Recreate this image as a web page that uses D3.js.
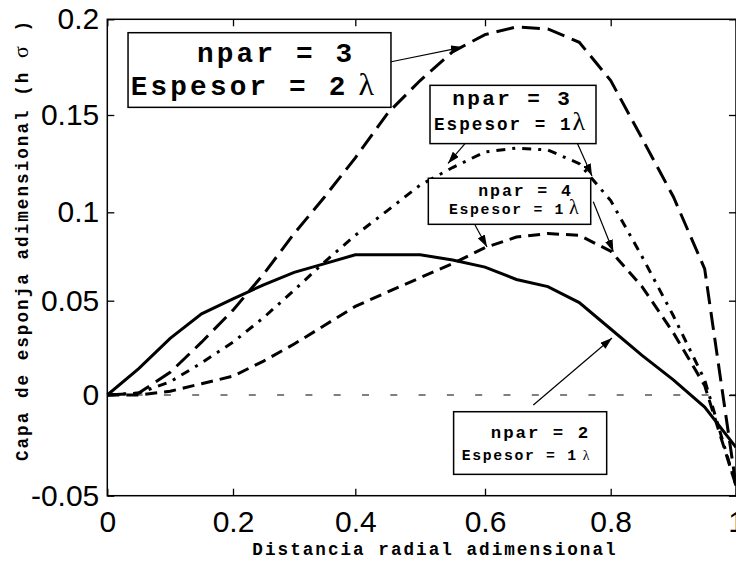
<!DOCTYPE html>
<html>
<head>
<meta charset="utf-8">
<script src="https://cdn.jsdelivr.net/npm/d3@7"></script>
<style>
  body { margin: 0; background: #fff; }
  svg { display: block; }
</style>
</head>
<body>
<svg id="chart" width="736" height="561"></svg>
<script>
// Radial positions (dimensionless) where the sponge-layer thickness was evaluated
const radialPos = [0, 0.05, 0.1, 0.15, 0.2, 0.25, 0.3, 0.35, 0.4, 0.45, 0.5,
                   0.55, 0.6, 0.65, 0.7, 0.75, 0.8, 0.85, 0.9, 0.95, 1];

// Dimensionless sponge-layer thickness (h sigma) for each configuration
const npar2Esp1 = [0, 0.014, 0.030, 0.043, 0.051, 0.059, 0.066, 0.071, 0.076, 0.076, 0.076,
                   0.073, 0.069, 0.062, 0.058, 0.049, 0.035, 0.021, 0.008, -0.006, -0.026];
const npar3Esp2 = [0, 0.001, 0.012, 0.028, 0.045, 0.065, 0.088, 0.108, 0.128, 0.151, 0.168,
                   0.183, 0.192, 0.196, 0.195, 0.188, 0.168, 0.138, 0.108, 0.068, -0.045];
const npar3Esp1 = [0, 0.001, 0.007, 0.017, 0.028, 0.041, 0.056, 0.072, 0.087, 0.101, 0.114,
                   0.123, 0.131, 0.133, 0.132, 0.125, 0.106, 0.075, 0.042, 0.008, -0.045];
const npar4Esp1 = [0, 0.000, 0.002, 0.006, 0.010, 0.018, 0.027, 0.037, 0.047, 0.055, 0.063,
                   0.071, 0.080, 0.086, 0.088, 0.087, 0.078, 0.058, 0.033, 0.005, -0.045];

const xTicks = [0, 0.2, 0.4, 0.6, 0.8, 1];
const xTickLabels = ["0", "0.2", "0.4", "0.6", "0.8", "1"];
const yTicks = [-0.05, 0, 0.05, 0.1, 0.15, 0.2];
const yTickLabels = ["-0.05", "0", "0.05", "0.1", "0.15", "0.2"];

const xTitle = "Distancia radial adimensional";
const yTitle = ["Capa de esponja adimensional (h ", "\u03c3", " )"];

const series = [
  { values: npar2Esp1, dash: null },
  { values: npar3Esp2, dash: "18,8" },
  { values: npar3Esp1, dash: "9,7,3,7" },
  { values: npar4Esp1, dash: "12,7" }
];

// Annotation boxes in data coordinates: [x0, x1, yTop, yBottom]
const notes = [
  { box: [0.033, 0.455, 0.193, 0.154],
    lines: [ { x: 0.1443, y: 0.1775, size: 33, text: "npar = 3" },
             { x: 0.0388, y: 0.1604, size: 33, text: "Espesor = 2", lam: 32, ldx: 10 } ],
    arrows: [ [0.4534, 0.1777, 0.5661, 0.1855] ] },
  { box: [0.5152, 0.7766, 0.1655, 0.1353],
    lines: [ { x: 0.5511, y: 0.1554, size: 25, text: "npar = 3" },
             { x: 0.5229, y: 0.1421, size: 21, text: "Espesor = 1", lam: 26, ldx: 0 } ],
    arrows: [ [0.5718, 0.1363, 0.5430, 0.1251], [0.7469, 0.1355, 0.7702, 0.1187] ] },
  { box: [0.5126, 0.7682, 0.1175, 0.0932],
    lines: [ { x: 0.5912, y: 0.1084, size: 19.7, text: "npar = 4" },
             { x: 0.5460, y: 0.0990, size: 17.6, text: "Espesor = 1", lam: 20, ldx: 4 } ],
    arrows: [ [0.5846, 0.0928, 0.6032, 0.0804], [0.7723, 0.1054, 0.8042, 0.0777] ] },
  { box: [0.5516, 0.7936, -0.0083, -0.0394],
    lines: [ { x: 0.6107, y: -0.0215, size: 20.7, text: "npar = 2" },
             { x: 0.5656, y: -0.0323, size: 17.6, text: "Espesor = 1", lam: 14, ldx: 5 } ],
    arrows: [ [0.6769, -0.005, 0.8021, 0.0302] ] }
];

const svg = d3.select("#chart");

const x = d3.scaleLinear().domain(xTicks).range([107.3, 233, 355.3, 485, 610.7, 736]);
const y = d3.scaleLinear().domain(yTicks).range([495.7, 395, 300.7, 212.3, 115, 19.3]);

const MONO = "'Liberation Mono', 'Courier New', monospace";
const SERIF = "'Liberation Serif', 'Times New Roman', serif";
const SANS = "'Liberation Sans', Arial, Helvetica, sans-serif";

// Courier-like pitch on a taller monospace face
function mono(sel, size) {
  const f = size * 0.84;
  sel.attr("font-family", MONO).attr("font-weight", "bold")
     .attr("font-size", f).attr("letter-spacing", (0.6 * (size - f)).toFixed(2));
}

svg.append("defs").append("marker")
  .attr("id", "head")
  .attr("viewBox", "0 0 12 8")
  .attr("refX", 12).attr("refY", 4)
  .attr("markerWidth", 12).attr("markerHeight", 8)
  .attr("markerUnits", "userSpaceOnUse")
  .attr("orient", "auto")
  .append("path").attr("d", "M0,0 L12,4 L0,8 Z").attr("fill", "#000");

// zero reference line
svg.append("line")
  .attr("x1", x(0)).attr("x2", x(1))
  .attr("y1", y(0)).attr("y2", y(0))
  .attr("stroke", "#000").attr("stroke-width", 1)
  .attr("stroke-dasharray", "7,21.3");

// curves
const line = d3.line().x((d, i) => x(radialPos[i])).y(d => y(d));
svg.append("g").selectAll("path").data(series).join("path")
  .attr("d", d => line(d.values))
  .attr("fill", "none").attr("stroke", "#000").attr("stroke-width", 3)
  .attr("stroke-dasharray", d => d.dash);

// axes with inward ticks
const fmtX = (d, i) => xTickLabels[i];
const fmtY = (d, i) => yTickLabels[i];
const gx = svg.append("g").attr("transform", `translate(0,${y(-0.05)})`)
  .call(d3.axisBottom(x).tickValues(xTicks).tickFormat(fmtX).tickSizeInner(-7).tickSizeOuter(0).tickPadding(15));
const gy = svg.append("g").attr("transform", `translate(${x(0)},0)`)
  .call(d3.axisLeft(y).tickValues(yTicks).tickFormat(fmtY).tickSizeInner(-7).tickSizeOuter(0).tickPadding(8));
const gt = svg.append("g").attr("transform", `translate(0,${y(0.2)})`)
  .call(d3.axisTop(x).tickValues(xTicks).tickFormat("").tickSizeInner(-7).tickSizeOuter(0));
const gr = svg.append("g").attr("transform", `translate(${x(1)},0)`)
  .call(d3.axisRight(y).tickValues(yTicks).tickFormat("").tickSizeInner(-7).tickSizeOuter(0));
[gx, gy, gt, gr].forEach(g => {
  g.select(".domain").remove();
  g.selectAll(".tick line").attr("stroke", "#000").attr("stroke-width", 1.3);
  g.selectAll("text").attr("font-family", SANS).attr("font-size", 30).attr("fill", "#000");
});

// plot frame
svg.append("rect")
  .attr("x", x(0)).attr("y", y(0.2))
  .attr("width", x(1) - x(0)).attr("height", y(-0.05) - y(0.2))
  .attr("fill", "none").attr("stroke", "#000").attr("stroke-width", 1.5);

// axis titles
const xt = svg.append("text").attr("x", 435).attr("y", 555)
  .attr("text-anchor", "middle").attr("fill", "#000").text(xTitle);
mono(xt, 21);

const yt = svg.append("text").attr("transform", "translate(28,240) rotate(-90)")
  .attr("text-anchor", "middle").attr("fill", "#000");
mono(yt, 21);
yt.append("tspan").text(yTitle[0]);
yt.append("tspan").attr("font-family", SERIF).attr("font-weight", "normal").attr("font-size", 22).text(yTitle[1]);
yt.append("tspan").text(yTitle[2]);

// annotation boxes and arrows
notes.forEach(n => {
  const g = svg.append("g");
  n.arrows.forEach(a => {
    g.append("line")
      .attr("x1", x(a[0])).attr("y1", y(a[1]))
      .attr("x2", x(a[2])).attr("y2", y(a[3]))
      .attr("stroke", "#000").attr("stroke-width", 1.2)
      .attr("marker-end", "url(#head)");
  });
  g.append("rect")
    .attr("x", x(n.box[0])).attr("y", y(n.box[2]))
    .attr("width", x(n.box[1]) - x(n.box[0]))
    .attr("height", y(n.box[3]) - y(n.box[2]))
    .attr("fill", "#fff").attr("stroke", "#000").attr("stroke-width", 1.5);
  n.lines.forEach(l => {
    const t = g.append("text").attr("x", x(l.x) - 1).attr("y", y(l.y)).attr("fill", "#000");
    mono(t, l.size);
    t.append("tspan").text(l.text);
    if (l.lam) {
      t.append("tspan").attr("dx", l.ldx)
        .attr("font-family", SERIF).attr("font-weight", "normal")
        .attr("font-size", l.lam).attr("letter-spacing", 0).text("\u03bb");
    }
  });
});
</script>
</body>
</html>
